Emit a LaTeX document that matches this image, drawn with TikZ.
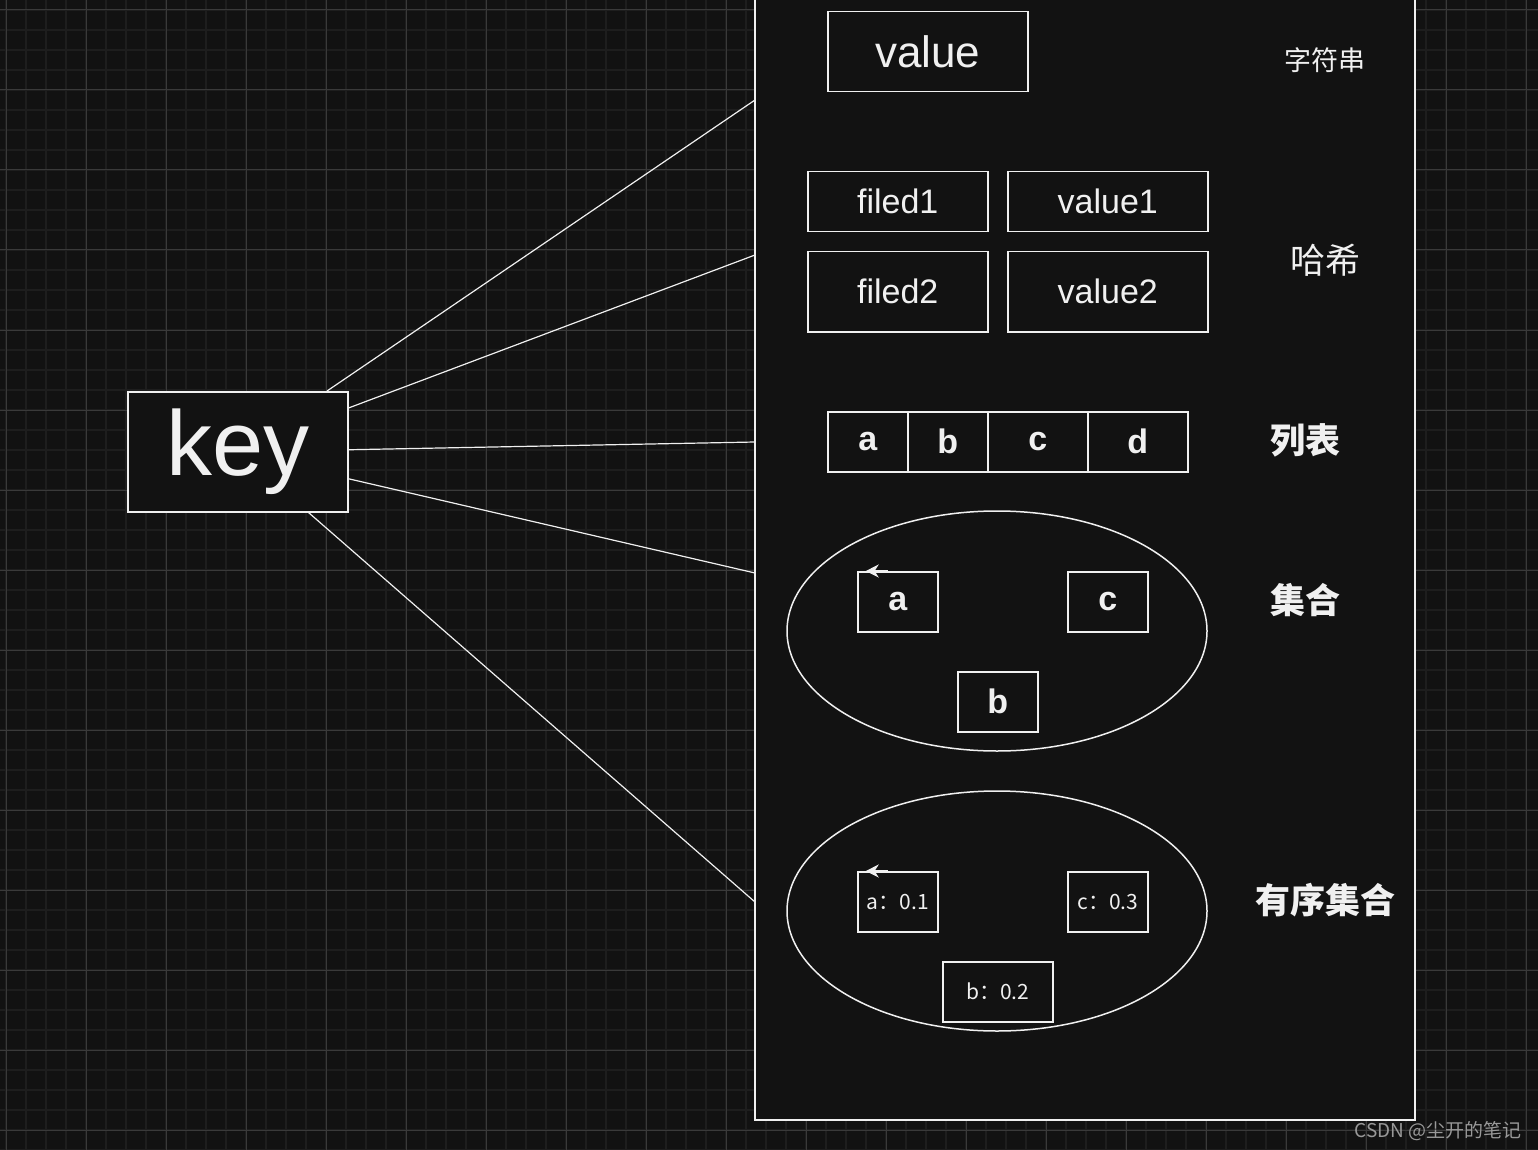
\documentclass[tikz,border=0pt]{standalone}
\usepackage{fontspec}
\setmainfont{Liberation Sans}
\newfontfamily\cjk{Noto Sans CJK SC}
\usetikzlibrary{arrows.meta}
\definecolor{bg}{HTML}{121212}
\definecolor{gmin}{HTML}{1E1E1E}
\definecolor{gmaj}{HTML}{3A3A3A}
\definecolor{fg}{HTML}{F0F0F0}
\tikzset{
 bx/.style={draw=fg,line width=1.5pt,text=fg,inner sep=0pt,minimum width=#1,minimum height=60,anchor=north west},
 bx/.default=80,
 lbl/.style={text=fg,inner sep=0pt},
 conn/.style={draw=fg,line width=1.2pt},
 fs/.style={font=\fontsize{#1}{#1}\selectfont},
}
\begin{document}
\begin{tikzpicture}[x=1pt,y=-1pt]
\useasboundingbox (0,0) rectangle (1538,1150);
\fill[bg] (0,0) rectangle (1538,1150);
\foreach \i in {0,...,76} {\draw[gmin,line width=1.2pt] (6+20*\i,0)--(6+20*\i,1150);}
\foreach \i in {0,...,57} {\draw[gmin,line width=1.2pt] (0,10+20*\i)--(1538,10+20*\i);}
\foreach \i in {0,...,19} {\draw[gmaj,line width=1pt] (6+80*\i,0)--(6+80*\i,1150);}
\foreach \i in {0,...,14} {\draw[gmaj,line width=1pt] (0,10+80*\i)--(1538,10+80*\i);}
% container
\draw[fg,fill=bg,line width=1.5pt] (755,-5) rectangle (1415,1120);
\coordinate (p1) at (755,100);
\coordinate (p2) at (755,255);
\coordinate (p3) at (755,442);
\coordinate (p4) at (755,573);
\coordinate (p5) at (755,902);
\node[bx=220,minimum height=120,fill=bg,fs=92] (key) at (127,391) {key};
\draw[conn] (key.north)++(90,0) coordinate (k1);
\draw[conn] (327,391) -- (p1);
\draw[conn] (key.north east)++(0,17) -- (p2);
\draw[conn] (key.east)++(0,-2) -- (p3);
\draw[conn] (key.east)++(0,27) -- (p4);
\draw[conn] (key.south east)++(-40,0) -- (p5);
% string
\node[bx=200,minimum height=80,fs=44] (v) at (827,11) {value};
\node[lbl,fs=27,font=\cjk\fontsize{27}{27}\selectfont] (s) at (1325,60) {字符串};
% hash
\node[bx=180,fs=34] (f1) at (807,171) {filed1};
\node[bx=200,fs=34] (v1) at (1007,171) {value1};
\node[bx=180,minimum height=80,fs=34] (f2) at (807,251) {filed2};
\node[bx=200,minimum height=80,fs=34] (v2) at (1007,251) {value2};
\node[lbl,font=\cjk\fontsize{35}{35}\selectfont] (h) at (1325,260) {哈希};
% list
\node[bx,font=\bfseries\fontsize{34}{34}\selectfont] (la) at (827,411) {a};
\node[bx,font=\bfseries\fontsize{34}{34}\selectfont] (lb) at (907,411) {b};
\node[bx=100,font=\bfseries\fontsize{34}{34}\selectfont] (lc) at (987,411) {c};
\node[bx=100,font=\bfseries\fontsize{34}{34}\selectfont] (ld) at (1087,411) {d};
\node[lbl,font=\cjk\bfseries\fontsize{35}{35}\selectfont] (l) at (1305,440) {列表};
% set
\draw[fg,line width=1.5pt] (997,631) ellipse[x radius=210,y radius=120];
\node[bx,font=\bfseries\fontsize{34}{34}\selectfont] (sa) at (857,571) {a};
\node[bx,font=\bfseries\fontsize{34}{34}\selectfont] (sc) at (1067,571) {c};
\node[bx,font=\bfseries\fontsize{34}{34}\selectfont] (sb) at (957,671) {b};
\draw[fg,line width=1.5pt,-{Stealth[length=13pt,width=13pt]}] (sa.north)++(-10,0) -- ++(-22,0);
\node[lbl,font=\cjk\bfseries\fontsize{35}{35}\selectfont] (st) at (1305,600) {集合};
% zset
\draw[fg,line width=1.5pt] (997,911) ellipse[x radius=210,y radius=120];
\node[bx,font=\cjk\fontsize{21}{21}\selectfont] (za) at (857,871) {a：0.1};
\node[bx,font=\cjk\fontsize{21}{21}\selectfont] (zc) at (1067,871) {c：0.3};
\node[bx=110,font=\cjk\fontsize{21}{21}\selectfont] (zb) at (942,961) {b：0.2};
\draw[fg,line width=1.5pt,-{Stealth[length=13pt,width=13pt]}] (za.north)++(-10,0) -- ++(-22,0);
\node[lbl,font=\cjk\bfseries\fontsize{35}{35}\selectfont] (zt) at (1325,900) {有序集合};
\node[text=gray!80,inner sep=0pt,anchor=east,font=\cjk\fontsize{19}{19}\selectfont] (wm) at (1522,1131) {CSDN @尘开的笔记};
\end{tikzpicture}
\end{document}
